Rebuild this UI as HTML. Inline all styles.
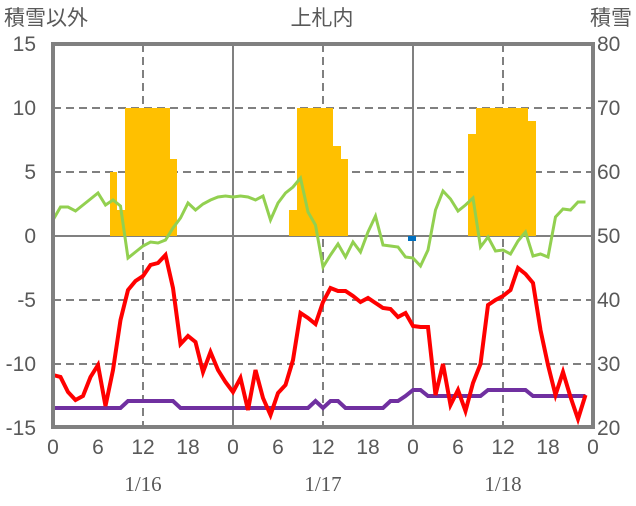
<!DOCTYPE html>
<html><head><meta charset="utf-8"><style>
body{margin:0;background:#fff}
svg text{font-family:"Liberation Sans","Noto Sans CJK JP",sans-serif;fill:#595959;font-size:21px}
svg text.d{font-family:"Liberation Serif","Noto Serif CJK SC",serif;font-size:21px}
</style></head><body>
<svg width="636" height="501" viewBox="0 0 636 501">
<g stroke="#808080" stroke-width="2" stroke-dasharray="8,5">
<line x1="53" y1="108" x2="593" y2="108"/><line x1="53" y1="172" x2="593" y2="172"/>
<line x1="53" y1="300" x2="593" y2="300"/><line x1="53" y1="364" x2="593" y2="364"/>
<line x1="143" y1="44" x2="143" y2="427"/><line x1="323" y1="44" x2="323" y2="427"/><line x1="503" y1="44" x2="503" y2="427"/>
</g>
<g stroke="#808080" stroke-width="2">
<line x1="233" y1="44" x2="233" y2="427"/><line x1="413" y1="44" x2="413" y2="427"/>
<line x1="53" y1="236" x2="593" y2="236"/>
</g>
<g fill="#FFC000">
<rect x="110" y="172" width="7" height="64"/><rect x="117" y="210" width="8" height="26"/>
<rect x="125" y="108" width="45" height="128"/><rect x="170" y="159" width="7" height="77"/>
<rect x="289" y="210" width="8" height="26"/><rect x="297" y="108" width="36" height="128"/>
<rect x="333" y="146" width="8" height="90"/><rect x="341" y="159" width="7" height="77"/>
<rect x="468" y="134" width="8" height="102"/><rect x="476" y="108" width="52" height="128"/>
<rect x="528" y="121" width="8" height="115"/>
</g>
<rect x="408" y="236" width="8" height="5" fill="#0070C0"/>
<polyline fill="none" stroke="#92D050" stroke-width="3" points="53,220 60.5,207 68,207 75.5,211 83,205 90.5,199 98,193 105.5,205 113,200 120.5,206 128,258 135.5,252 143,246 150.5,242 158,243 165.5,240 173,228 180.5,218 188,203 195.5,210 203,204 210.5,200 218,197 225.5,196 233,197 240.5,196 248,197 255.5,200 263,196 270.5,220 278,203 285.5,193 293,187 300.5,178 308,212 315.5,225 323,267 330.5,255 338,244 345.5,257 353,242 360.5,252 368,232 375.5,216 383,245 390.5,246 398,247 405.5,257 413,258 420.5,266 428,250 435.5,210 443,191 450.5,199 458,211 465.5,205 473,198 480.5,247 488,237 495.5,251 503,250 510.5,254 518,241 525.5,232 533,256 540.5,254 548,257 555.5,217 563,209 570.5,210 578,202 585.5,202"/>
<polyline fill="none" stroke="#7030A0" stroke-width="4" points="53,408 120.5,408 128,401 173,401 180.5,408 308,408 315.5,401 323,408 330.5,401 338,401 345.5,408 383,408 390.5,401 398,401 405.5,396 413,390 420.5,390 428,396 480.5,396 488,390 525.5,390 533,396 585.5,396"/>
<polyline fill="none" stroke="#FF0000" stroke-width="4" points="53,375 60.5,377 68,392 75.5,400 83,396 90.5,377 98,365 105.5,406 113,370 120.5,320 128,290 135.5,281 143,276 150.5,265 158,263 165.5,255 173,288 180.5,344 188,336 195.5,342 203,372 210.5,352 218,370 225.5,382 233,392 240.5,378 248,410 255.5,370 263,398 270.5,415 278,393 285.5,385 293,360 300.5,313 308,318 315.5,324 323,302 330.5,288 338,291 345.5,291 353,296 360.5,302 368,298 375.5,303 383,308 390.5,309 398,317 405.5,313 413,326 420.5,327 428,327 435.5,395 443,364 450.5,405 458,390 465.5,411 473,383 480.5,364 488,305 495.5,300 503,296 510.5,290 518,268 525.5,274 533,283 540.5,330 548,365 555.5,395 563,372 570.5,397 578,419 585.5,395"/>
<rect x="53" y="44" width="540" height="383" fill="none" stroke="#808080" stroke-width="4"/>
<g text-anchor="end">
<text x="36" y="51">15</text><text x="36" y="115">10</text><text x="36" y="179">5</text><text x="36" y="243">0</text>
<text x="36" y="307">-5</text><text x="36" y="371">-10</text><text x="36" y="435">-15</text>
</g>
<g text-anchor="start">
<text x="597" y="51">80</text><text x="597" y="115">70</text><text x="597" y="179">60</text><text x="597" y="243">50</text>
<text x="597" y="307">40</text><text x="597" y="371">30</text><text x="597" y="435">20</text>
</g>
<g text-anchor="middle">
<text x="53" y="454">0</text><text x="98" y="454">6</text><text x="143" y="454">12</text><text x="188" y="454">18</text>
<text x="233" y="454">0</text><text x="278" y="454">6</text><text x="323" y="454">12</text><text x="368" y="454">18</text>
<text x="413" y="454">0</text><text x="458" y="454">6</text><text x="503" y="454">12</text><text x="548" y="454">18</text>
<text x="593" y="454">0</text>
<text class="d" x="143" y="491">1/16</text><text class="d" x="323" y="491">1/17</text><text class="d" x="503" y="491">1/18</text>
<text x="322" y="25">上札内</text>
</g>
<text x="4" y="25">積雪以外</text>
<text x="632" y="25" text-anchor="end">積雪</text>
</svg>
</body></html>
